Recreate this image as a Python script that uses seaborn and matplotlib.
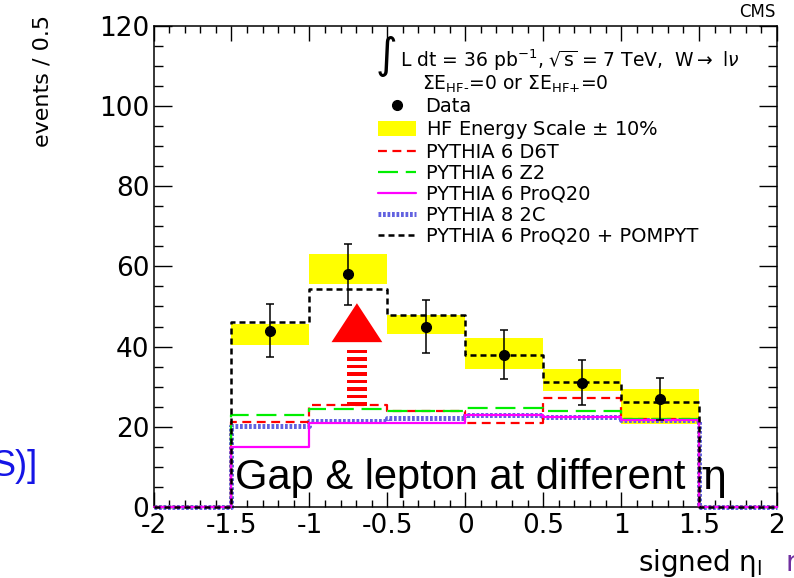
import numpy as np
import pandas as pd
import matplotlib
matplotlib.use("Agg")
import matplotlib.pyplot as plt
import seaborn as sns
from matplotlib.lines import Line2D
from matplotlib.patches import Patch
from matplotlib.ticker import MultipleLocator, FuncFormatter

# ---------------- data ----------------
bin_edges = [-2.0, -1.5, -1.0, -0.5, 0.0, 0.5, 1.0, 1.5, 2.0]
bin_centers = [-1.25, -0.75, -0.25, 0.25, 0.75, 1.25]
data_counts = [44, 58, 45, 38, 31, 27]
data_errors = [6.6, 7.6, 6.7, 6.2, 5.6, 5.2]
hf_band_low = [40.5, 55.5, 43.2, 34.4, 28.8, 20.6]
hf_band_high = [45.7, 63.0, 47.9, 42.1, 34.4, 29.5]
pythia6_d6t = [0, 21.2, 25.5, 24.0, 20.9, 27.1, 22.0, 0]
pythia6_z2 = [0, 23.0, 24.4, 24.0, 24.8, 24.0, 22.0, 0]
pythia6_proq20 = [0, 15.0, 20.9, 20.9, 23.0, 22.5, 21.8, 0]
pythia8_2c = [0, 20.1, 21.5, 22.3, 23.0, 22.5, 21.7, 0]
proq20_pompyt = [0, 46.1, 54.4, 47.9, 37.9, 31.2, 26.3, 0]

legend_labels = ["Data", "HF Energy Scale $\\pm$ 10%", "PYTHIA 6 D6T", "PYTHIA 6 Z2",
                 "PYTHIA 6 ProQ20", "PYTHIA 8 2C", "PYTHIA 6 ProQ20 + POMPYT"]

# ---------------- style ----------------
sns.set_theme(style="ticks")
plt.rcParams["font.family"] = ["DejaVu Sans"]
plt.rcParams["mathtext.fontset"] = "dejavusans"
for k in ["text.color", "axes.labelcolor", "xtick.color", "ytick.color", "axes.edgecolor"]:
    plt.rcParams[k] = "black"

fig = plt.figure(figsize=(7.94, 5.78), dpi=100)
ax = fig.add_axes([153.5 / 794, 1 - 507 / 578, (777 - 153.5) / 794, (507 - 25.7) / 578])

# yellow HF band
band_h = [h - l for h, l in zip(hf_band_high, hf_band_low)]
ax.bar(bin_centers, band_h, bottom=hf_band_low, width=0.5, color="#ffff00",
       linewidth=0, zorder=1)

models = [
    ("PYTHIA 8 2C", pythia8_2c, "#6262e0", 3.6, (0, (0.55, 0.35))),
    ("PYTHIA 6 D6T", pythia6_d6t, "#ff0000", 1.6, (0, (4, 2.5))),
    ("PYTHIA 6 Z2", pythia6_z2, "#00ee00", 1.6, (0, (9, 3.5))),
    ("PYTHIA 6 ProQ20", pythia6_proq20, "#ff00ff", 1.6, "-"),
    ("PYTHIA 6 ProQ20 + POMPYT", proq20_pompyt, "#000000", 1.8, (0, (2.4, 1.6))),
]
for i, (name, vals, col, lw, ls) in enumerate(models):
    df = pd.DataFrame({"x": bin_edges, "y": list(vals) + [vals[-1]]})
    sns.lineplot(data=df, x="x", y="y", ax=ax, estimator=None, sort=False,
                 drawstyle="steps-post", color=col, linewidth=lw, linestyle=ls,
                 legend=False, zorder=2 + i, clip_on=False)

# data points
ax.errorbar(bin_centers, data_counts, yerr=data_errors, fmt="o", color="black",
            markersize=7, elinewidth=1.1, capsize=3, capthick=1.1, zorder=10)

# red arrow annotation
ARROW_X = -0.695
ax.fill([ARROW_X - 0.163, ARROW_X, ARROW_X + 0.163], [41.1, 50.8, 41.1],
        color="#ff0000", linewidth=0, zorder=11)
for yb in np.arange(39.2, 24.5, -1.87):
    ax.fill_between([ARROW_X - 0.062, ARROW_X + 0.062], yb - 0.85, yb,
                    color="#ff0000", linewidth=0, zorder=11)

# axes
ax.set_xlim(-2, 2)
ax.set_ylim(0, 120)
ax.xaxis.set_major_locator(MultipleLocator(0.5))
ax.xaxis.set_minor_locator(MultipleLocator(0.1))
ax.yaxis.set_major_locator(MultipleLocator(20))
ax.yaxis.set_minor_locator(MultipleLocator(5))
ax.xaxis.set_major_formatter(FuncFormatter(lambda v, p: f"{v:g}"))
ax.tick_params(axis="both", which="both", direction="in", top=True, right=True,
               colors="black", labelsize=19, width=1.0)
ax.tick_params(axis="x", which="major", length=11, pad=4)
ax.tick_params(axis="x", which="minor", length=5)
ax.tick_params(axis="y", which="major", length=13, pad=3)
ax.tick_params(axis="y", which="minor", length=6.5)
for s in ax.spines.values():
    s.set_linewidth(1.1)
    s.set_color("black")
ax.set_xlabel("")
ax.set_ylabel("")

# header text
ax.text(-0.575, 112.5, "\u222b", fontsize=30, ha="left", va="center", zorder=12)
ax.text(-0.417, 111.5, "L dt = 36 pb$^{-1}$, $\\sqrt{\\mathrm{s}}$ = 7 TeV,  W$\\rightarrow$ l$\\nu$",
        fontsize=13.5, ha="left", va="center")
ax.text(-0.276, 105.4, "\u03a3E$_{\\text{HF-}}$=0 or \u03a3E$_{\\text{HF+}}$=0",
        fontsize=13.5, ha="left", va="center")

handles = [
    Line2D([], [], marker="o", color="black", linestyle="none", markersize=7),
    Patch(facecolor="#ffff00", edgecolor="none"),
    Line2D([], [], color="#ff0000", lw=1.6, linestyle=(0, (4, 2.5))),
    Line2D([], [], color="#00ee00", lw=1.6, linestyle=(0, (9, 3.5))),
    Line2D([], [], color="#ff00ff", lw=1.6, linestyle="-"),
    Line2D([], [], color="#6262e0", lw=3.6, linestyle=(0, (0.55, 0.35))),
    Line2D([], [], color="#000000", lw=1.8, linestyle=(0, (2.4, 1.6))),
]
ax.legend(handles, legend_labels, loc="upper left", bbox_to_anchor=(0.36, 0.852),
          frameon=False, fontsize=14, handlelength=1.95, handletextpad=0.5,
          labelspacing=0.1, borderpad=0, borderaxespad=0, handleheight=0.8)

ax.text(-1.48, 4.5, "Gap & lepton at different", fontsize=30,
        family="Liberation Sans", ha="left", va="baseline", zorder=12)
ax.text(1.507, 4.5, "\u03b7", fontsize=31,
        family="DejaVu Serif", ha="left", va="baseline", zorder=12)

# figure texts
fig.text(775 / 794, 1 - 12 / 578, "CMS", fontsize=12, ha="right", va="center")
fig.text(42 / 794, 1 - 15 / 578, "events / 0.5", fontsize=16, rotation=90,
         ha="center", va="top")
fig.text(762 / 794, 1 - 563 / 578, "signed \u03b7$_{\\mathrm{l}}$", fontsize=20,
         ha="right", va="center")
fig.text(785 / 794, 1 - 563 / 578, "r", fontsize=20, color="#7030a0",
         ha="left", va="center")
fig.text(38 / 794, 1 - 466 / 578, "S)]", fontsize=26, color="#1515e6",
         family="Liberation Sans", ha="right", va="center")

fig.savefig("out.png", dpi=100)
